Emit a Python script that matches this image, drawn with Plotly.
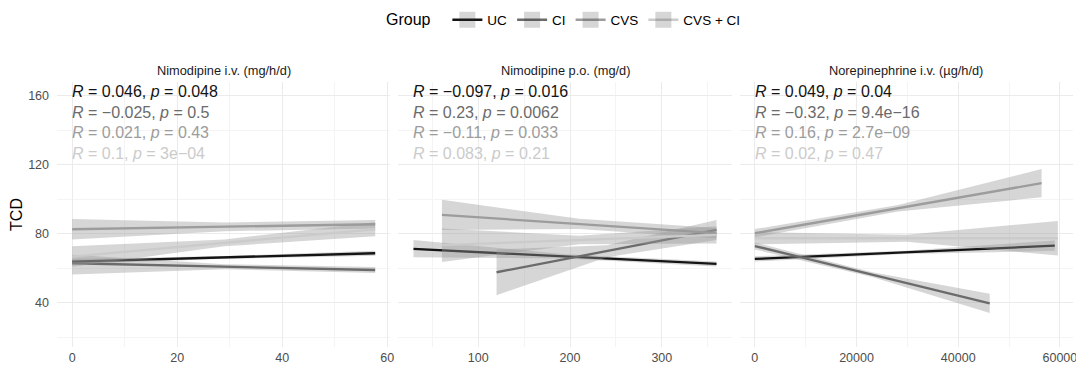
import plotly.graph_objects as go
from plotly.subplots import make_subplots

# ---------------- data ----------------
GROUPS = ["UC", "CI", "CVS", "CVS + CI"]
PANEL_TITLES = ["Nimodipine i.v. (mg/h/d)", "Nimodipine p.o. (mg/d)", "Norepinephrine i.v. (µg/h/d)"]

# Panel 1 - Nimodipine i.v. : x (start, middle, end), fitted TCD, lower / upper CI band
IV_X = [[0, 29, 57.7], [0, 29, 57.7], [0, 29, 57.7], [0, 29, 57.7]]
IV_FIT = [[64.0, 66.4, 68.8], [63.0, 61.0, 59.1], [82.7, 84.1, 85.6], [66.9, 74.8, 82.7]]
IV_LO = [[62.5, 65.6, 67.3], [56.5, 59.6, 57.3], [76.7, 81.6, 83.1], [61.0, 72.8, 78.7]]
IV_HI = [[65.5, 67.2, 70.3], [68.0, 62.4, 60.9], [88.7, 86.6, 88.1], [72.8, 76.8, 86.7]]
IV_R = ["0.046", "−0.025", "0.021", "0.1"]
IV_P = ["0.048", "0.5", "0.43", "3e−04"]

# Panel 2 - Nimodipine p.o.
PO_X = [[29.5, 195, 359.6], [120, 240, 359.6], [60.5, 210, 359.6], [60.5, 210, 359.6]]
PO_FIT = [[71.3, 67.0, 62.6], [57.8, 70.0, 82.3], [91.0, 85.8, 80.5], [73.5, 76.5, 79.5]]
PO_LO = [[66.5, 65.8, 61.2], [44.5, 66.5, 76.5], [82.2, 82.8, 77.5], [63.8, 74.0, 74.5]]
PO_HI = [[76.5, 68.2, 64.0], [71.0, 73.5, 88.0], [99.8, 88.8, 83.5], [83.2, 79.0, 84.5]]
PO_R = ["−0.097", "0.23", "−0.11", "0.083"]
PO_P = ["0.016", "0.0062", "0.033", "0.21"]

# Panel 3 - Norepinephrine i.v.
NE_X = [[0, 29500, 59000], [0, 23100, 46200], [0, 28200, 56400], [0, 29800, 59600]]
NE_FIT = [[65.5, 69.3, 73.2], [73.0, 56.4, 39.8], [80.4, 94.9, 109.4], [77.5, 77.5, 77.5]]
NE_LO = [[64.0, 68.3, 70.2], [71.0, 55.0, 34.2], [78.0, 93.0, 101.2], [74.0, 75.5, 67.5]]
NE_HI = [[67.0, 70.3, 76.2], [75.0, 57.8, 45.4], [82.8, 96.8, 117.6], [81.0, 79.5, 87.5]]
NE_R = ["0.049", "−0.32", "0.16", "0.02"]
NE_P = ["0.04", "9.4e−16", "2.7e−09", "0.47"]

Y_TICKS = [40, 80, 120, 160]

# ---------------- styles ----------------
FONT = "Liberation Sans, Arial, Helvetica, sans-serif"
LINE_COLORS = ["#141414", "#6b6b6b", "#9c9c9c", "#cbcbcb"]
RIBBON = "rgba(153,153,153,0.4)"
KEY_FILL = "rgba(50,50,50,0.2)"
GRID_MAJOR = "#ebebeb"
GRID_MINOR = "#f4f4f4"
Y_RANGE = [14.5, 168]
LABEL_TOP = 162.5
LABEL_STEP = 11.9

panels = [
    (IV_X, IV_FIT, IV_LO, IV_HI, IV_R, IV_P, 20, 10),
    (PO_X, PO_FIT, PO_LO, PO_HI, PO_R, PO_P, 100, 50),
    (NE_X, NE_FIT, NE_LO, NE_HI, NE_R, NE_P, 20000, 10000),
]

# the page body adds an 8px offset, so the figure is 8px smaller than the window
W, H = 1076, 370
ML, MR, MT, MB = 49, 11, 74, 31
GAP = 8

fig = make_subplots(rows=1, cols=3, horizontal_spacing=GAP / (W - ML - MR))

for pi, (xs, fits, los, his, rs, ps, dtick, mdtick) in enumerate(panels):
    col = pi + 1
    for gi, g in enumerate(GROUPS):
        x = xs[gi]
        fig.add_trace(go.Scatter(
            x=x + x[::-1], y=his[gi] + los[gi][::-1], fill="toself",
            fillcolor=RIBBON, line=dict(width=0), mode="lines",
            hoverinfo="skip", showlegend=False), row=1, col=col)
        fig.add_trace(go.Scatter(
            x=x, y=fits[gi], mode="lines", name=g, legendgroup=g,
            showlegend=False,
            line=dict(color=LINE_COLORS[gi], width=2.3)), row=1, col=col)
    allx = [v for row in xs for v in row]
    lo_x, hi_x = min(allx), max(allx)
    pad = 0.05 * (hi_x - lo_x)
    xref = "x" if pi == 0 else f"x{col}"
    yref = "y" if pi == 0 else f"y{col}"
    for gi in range(len(GROUPS)):
        fig.add_annotation(
            x=lo_x, y=LABEL_TOP - gi * LABEL_STEP, xref=xref, yref=yref,
            text=f"<i>R</i> = {rs[gi]}, <i>p</i> = {ps[gi]}",
            showarrow=False, xanchor="left", yanchor="middle", xshift=-2,
            font=dict(family=FONT, size=16, color=LINE_COLORS[gi]))
    fig.update_xaxes(
        range=[lo_x - pad, hi_x + pad], dtick=dtick, tick0=0, tickformat="d",
        showgrid=True, gridcolor=GRID_MAJOR, gridwidth=1.1, zeroline=False,
        showline=False, ticks="", ticklabelstandoff=1, automargin=False,
        tickfont=dict(family=FONT, size=12.5, color="#4d4d4d"),
        minor=dict(showgrid=True, gridcolor=GRID_MINOR, gridwidth=1, dtick=mdtick, tick0=0),
        row=1, col=col)
    fig.update_yaxes(
        range=Y_RANGE, tickvals=Y_TICKS, showticklabels=(pi == 0),
        showgrid=True, gridcolor=GRID_MAJOR, gridwidth=1.1, zeroline=False,
        showline=False, ticks="", ticklabelstandoff=7, automargin=False,
        tickfont=dict(family=FONT, size=12.5, color="#4d4d4d"),
        minor=dict(showgrid=True, gridcolor=GRID_MINOR, gridwidth=1, tickvals=[20, 60, 100, 140]),
        row=1, col=col)
    dom = fig.layout[f"xaxis{'' if pi == 0 else col}"].domain
    fig.add_annotation(
        x=(dom[0] + dom[1]) / 2, y=1, xref="paper", yref="paper",
        text=PANEL_TITLES[pi], showarrow=False, xanchor="center", yanchor="bottom",
        yshift=2, font=dict(family=FONT, size=12.8, color="#1a1a1a"))

# legend keys: line over a grey ribbon-coloured square (as in ggplot's smooth key)
for gi, g in enumerate(GROUPS):
    fig.add_trace(go.Scatter(
        x=[None], y=[None], mode="lines+markers", name=g, legendgroup=g,
        line=dict(color=LINE_COLORS[gi], width=2.6),
        marker=dict(symbol="square", size=26, color=KEY_FILL, line=dict(width=0)),
        showlegend=True, hoverinfo="skip"), row=1, col=1)

fig.update_yaxes(title=dict(text="TCD", standoff=12,
                            font=dict(family=FONT, size=16, color="#000000")), row=1, col=1)

fig.update_layout(
    width=W, height=H, margin=dict(l=ML, r=MR, t=MT, b=MB, autoexpand=False),
    paper_bgcolor="white", plot_bgcolor="white",
    font=dict(family=FONT, color="#000000"),
    showlegend=True,
    legend=dict(orientation="h", x=0.5, xanchor="center", y=1 + (MT - 12) / (H - MT - MB),
                yanchor="middle", title=dict(text="Group  ", font=dict(family=FONT, size=16)),
                font=dict(family=FONT, size=13.5), itemwidth=30, tracegroupgap=0,
                itemsizing="trace"),
)

fig.write_html("out.html")
